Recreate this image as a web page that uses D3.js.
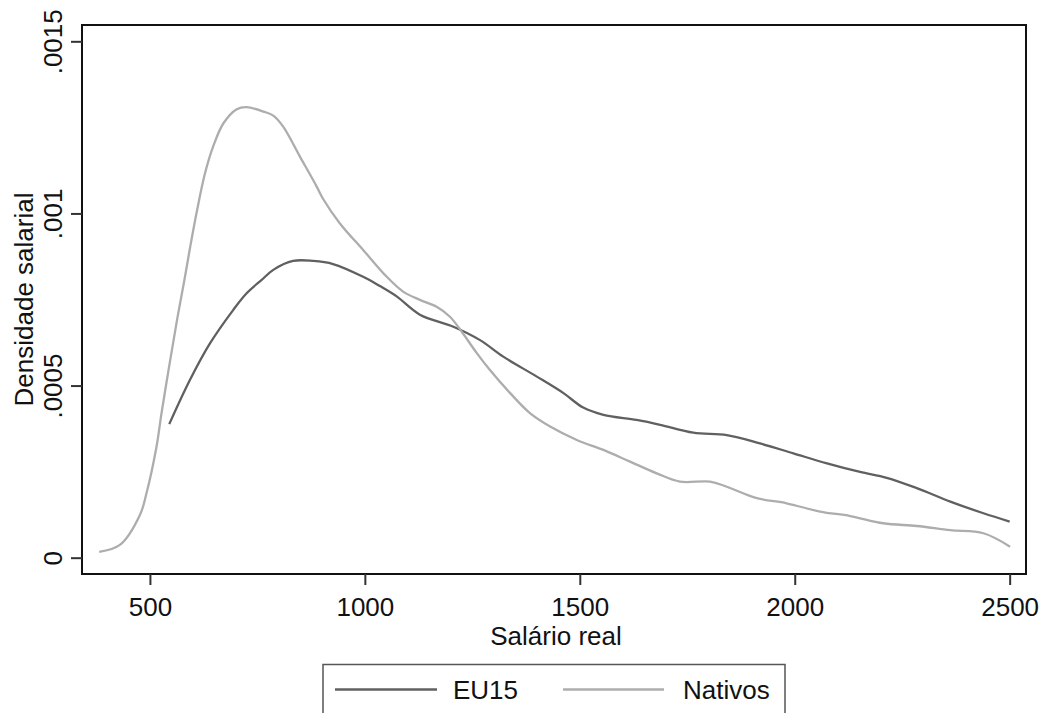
<!DOCTYPE html>
<html>
<head>
<meta charset="utf-8">
<script src="https://cdn.jsdelivr.net/npm/d3@7"></script>
<style>
  body { margin: 0; background: #fff; }
  svg text { font-family: "Liberation Sans", Arial, sans-serif; fill: #111; }
</style>
</head>
<body>
<svg id="chart" width="1044" height="713"></svg>
<script>
// kernel density estimates: [salario, densidade]
const eu15 = [
  [545,0.000388],[593,0.000516],[640,0.000623],[694,0.00072],[725,0.000768],
  [760,0.000807],[787,0.000836],[833,0.000862],[880,0.000862],[926,0.000853],
  [996,0.000816],[1035,0.000789],[1074,0.000759],[1128,0.000706],[1206,0.000671],
  [1268,0.000632],[1322,0.000584],[1400,0.000526],[1462,0.000478],[1508,0.000436],
  [1555,0.000415],[1632,0.0004],[1687,0.000386],[1764,0.000363],[1842,0.000356],
  [1919,0.000332],[1997,0.000303],[2075,0.000274],[2152,0.000249],[2214,0.000232],
  [2284,0.000202],[2362,0.000163],[2439,0.000129],[2500,0.000105]
]
const nativos = [
  [382,0.000017],[430,0.000037],[477,0.000125],[492,0.000187],[515,0.00032],
  [527,0.00042],[546,0.000565],[563,0.00069],[580,0.000805],[593,0.000898],
  [609,0.001005],[628,0.001116],[647,0.001194],[671,0.001262],[702,0.001303],
  [725,0.001309],[764,0.001296],[787,0.001284],[810,0.001252],[849,0.001165],
  [888,0.001078],[903,0.001042],[942,0.000971],[996,0.000894],[1051,0.000816],
  [1089,0.000773],[1128,0.000749],[1167,0.000729],[1198,0.0007],[1225,0.000657],
  [1260,0.000595],[1291,0.000545],[1338,0.000478],[1384,0.00042],[1431,0.000381],
  [1493,0.000342],[1555,0.000313],[1617,0.000279],[1679,0.000245],[1733,0.000221],
  [1803,0.000221],[1842,0.000206],[1912,0.000173],[1981,0.000158],[2059,0.000134],
  [2129,0.000121],[2206,0.0001],[2284,0.000092],[2362,0.00008],[2439,0.000071],
  [2501,0.000032]
]
const xTicks = [500, 1000, 1500, 2000, 2500]
const yTicks = [0, 0.0005, 0.001, 0.0015]
const yTickLabels = ['0', '.0005', '.001', '.0015']
const seriesNames = ['EU15', 'Nativos']
const seriesColors = ['#606060', '#adadad']

const svg = d3.select('#chart')
const plotL = 82, plotR = 1026, plotT = 25, plotB = 574

const x = d3.scaleLinear().domain([342, 2538]).range([plotL, plotR])
const y = d3.scaleLinear().domain([-0.0000474, 0.0015474]).range([plotB, plotT])

const line = d3.line()
  .x(d => x(d[0]))
  .y(d => y(d[1]))
  .curve(d3.curveCatmullRom)

// curves
const series = [eu15, nativos]
series.forEach((s, i) => {
  svg.append('path')
    .datum(s)
    .attr('d', line)
    .attr('fill', 'none')
    .attr('stroke', seriesColors[i])
    .attr('stroke-width', 2.3)
})

// plot region outline
svg.append('rect')
  .attr('x', plotL).attr('y', plotT)
  .attr('width', plotR - plotL).attr('height', plotB - plotT)
  .attr('fill', 'none')
  .attr('stroke', '#111')
  .attr('stroke-width', 2)

// x axis
const xAxis = svg.append('g')
  .attr('transform', `translate(0,${plotB})`)
  .call(d3.axisBottom(x).tickValues(xTicks).tickSize(11).tickFormat(d3.format('d')))
xAxis.select('.domain').remove()
xAxis.selectAll('line').attr('stroke', '#333').attr('stroke-width', 2)
xAxis.selectAll('text')
  .attr('font-size', 26)
  .attr('y', 42).attr('dy', 0)
  .style('font-family', '"Liberation Sans", Arial, sans-serif')
  .style('fill', '#111')

// y axis, labels rotated like Stata
const yAxis = svg.append('g')
  .attr('transform', `translate(${plotL},0)`)
  .call(d3.axisLeft(y).tickValues(yTicks).tickSize(11).tickFormat((d, i) => yTickLabels[i]))
yAxis.select('.domain').remove()
yAxis.selectAll('line').attr('stroke', '#333').attr('stroke-width', 2)
yAxis.selectAll('text')
  .attr('font-size', 26)
  .attr('x', 0).attr('dy', 0)
  .attr('text-anchor', 'middle')
  .attr('transform', 'translate(-20,0) rotate(-90)')
  .style('font-family', '"Liberation Sans", Arial, sans-serif')
  .style('fill', '#111')

// axis titles
svg.append('text')
  .attr('x', (plotL + plotR) / 2 + 2).attr('y', 645)
  .attr('text-anchor', 'middle')
  .attr('font-size', 26)
  .text('Salário real')

svg.append('text')
  .attr('transform', `translate(33,${(plotT + plotB) / 2}) rotate(-90)`)
  .attr('text-anchor', 'middle')
  .attr('font-size', 26)
  .text('Densidade salarial')

// legend
const legend = svg.append('g')
legend.append('rect')
  .attr('x', 323).attr('y', 664.5)
  .attr('width', 462).attr('height', 60)
  .attr('fill', '#fff')
  .attr('stroke', '#555')
  .attr('stroke-width', 1.5)

const legendX = [[335, 437, 453], [563, 664, 683]]
seriesNames.forEach((name, i) => {
  legend.append('line')
    .attr('x1', legendX[i][0]).attr('x2', legendX[i][1])
    .attr('y1', 689.5).attr('y2', 689.5)
    .attr('stroke', seriesColors[i])
    .attr('stroke-width', 2.3)
  legend.append('text')
    .attr('x', legendX[i][2]).attr('y', 699)
    .attr('font-size', 26)
    .text(name)
})
</script>
</body>
</html>
